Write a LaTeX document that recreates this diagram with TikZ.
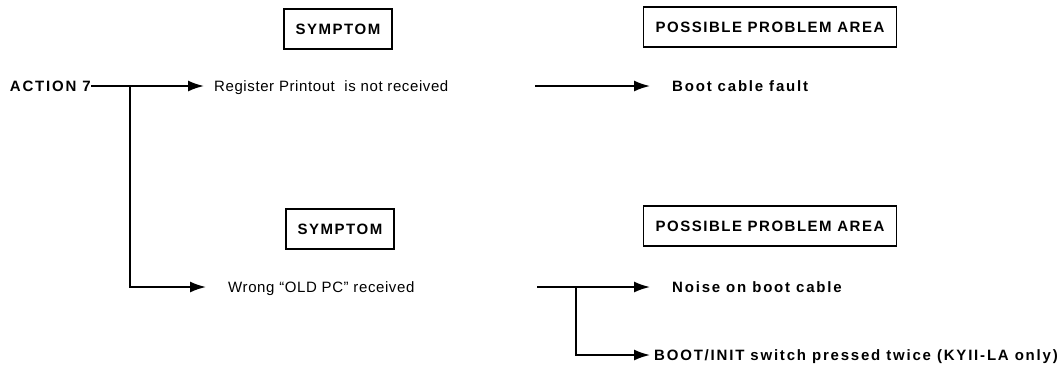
\documentclass[tikz,border=0pt]{standalone}
\usepackage{fontspec}
\setmainfont{Liberation Sans}
\usetikzlibrary{arrows.meta,positioning}

\begin{document}
\begin{tikzpicture}[
  x=1pt,y=-1pt,
  head/.style={draw,line width=1.6pt,font=\bfseries\fontsize{15}{18}\selectfont\addfontfeature{LetterSpace=10},minimum height=40pt,inner xsep=12pt},
  sym/.style={anchor=west,inner sep=0pt,text height=10pt,text depth=0pt,font=\fontsize{15}{18}\selectfont\addfontfeature{LetterSpace=4}},
  prob/.style={anchor=west,inner sep=0pt,text height=10pt,text depth=0pt,font=\bfseries\fontsize{15}{18}\selectfont\addfontfeature{LetterSpace=12}},
  arr/.style={-{Latex[length=16pt,width=11pt]},line width=1.8pt},
  ln/.style={line width=1.8pt}
]
\useasboundingbox (0,0) rectangle (1062,368);
% headings
\node[head] (sh1) at (338,29) {SYMPTOM};
\node[head] (ph1) at (770,27) {POSSIBLE PROBLEM AREA};
\node[head] (sh2) at (340,229) {SYMPTOM};
\node[head] (ph2) at (770,226) {POSSIBLE PROBLEM AREA};
% action and symptoms
\node[prob,anchor=east] (act) at (91,86) {ACTION 7};
\coordinate (j1) at (130,86);
\node[sym] (s1) at (214,86) {Register Printout\ \ is not received};
\node[sym] (s2) at (228,287) {Wrong ``OLD PC'' received};
% problem areas
\coordinate (c1) at (535,86);
\node[prob] (p1) at (672,86) {Boot cable fault};
\coordinate (c2) at (537,287);
\coordinate (j2) at (576,287);
\node[prob] (p2) at (672,287) {Noise on boot cable};
\node[prob] (p3) at (654,355) {BOOT/INIT switch pressed twice (KYII-LA only)};
\draw[ln] (act.east) -- (j1);
\draw[arr,shorten >=10pt] (j1) -- (s1);
\draw[arr,shorten >=22pt] (j1) |- (s2);
\draw[arr,shorten >=22pt] (c1) -- (p1);
\draw[ln] (c2) -- (j2);
\draw[arr,shorten >=22pt] (j2) -- (p2);
\draw[arr,shorten >=4pt] (j2) |- (p3);
\end{tikzpicture}
\end{document}
